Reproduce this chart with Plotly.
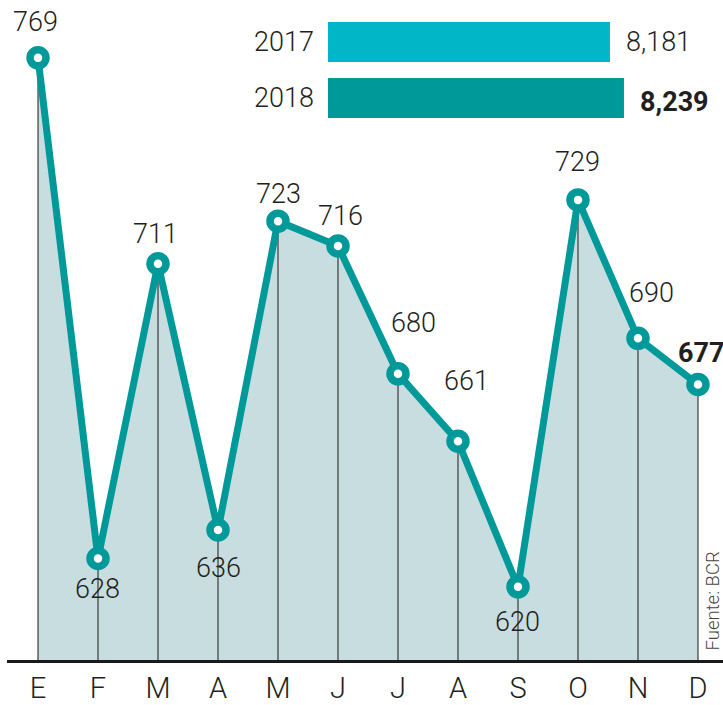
import plotly.graph_objects as go

months = ["E", "F", "M", "A", "M", "J", "J", "A", "S", "O", "N", "D"]
values = [769, 628, 711, 636, 723, 716, 680, 661, 620, 729, 690, 677]
years = ["2017", "2018"]
totals = [8181, 8239]

# label offsets in pixels (dx, dy) - styling only
label_dx = [-3, -1, -3, 0, 0, 2, 15, 9, 0, 0, 14, 3]
label_dy = [36, -31, 30, -38, 27, 30, 51, 60, -35, 38, 45, 32]

TEAL = "#00999a"
CYAN = "#00b6c7"
FILL = "#c8dde0"
TXT = "#231f20"
FONT = "Roboto"

xs = list(range(len(months)))
ys = list(range(len(years)))

fig = go.Figure()

# filled area
fig.add_trace(go.Scatter(x=xs, y=values, mode="lines", line=dict(width=0, color=FILL),
                         fill="tozeroy", fillcolor=FILL, hoverinfo="skip", showlegend=False))

# drop lines
dx, dy = [], []
for x, v in zip(xs, values):
    dx += [x, x, None]
    dy += [v, 0, None]
fig.add_trace(go.Scatter(x=dx, y=dy, mode="lines", line=dict(width=1.2, color="#3a3a3a"),
                         hoverinfo="skip", showlegend=False))

# main line with markers
fig.add_trace(go.Scatter(x=xs, y=values, mode="lines+markers",
                         line=dict(width=7, color=TEAL),
                         marker=dict(size=16, color="white", line=dict(width=7.5, color=TEAL)),
                         showlegend=False, cliponaxis=False))

# total bars
fig.add_trace(go.Bar(x=totals, y=ys, orientation="h", xaxis="x2", yaxis="y2",
                     marker=dict(color=[CYAN, TEAL], line=dict(width=0)),
                     width=0.714, showlegend=False, hoverinfo="skip"))

annotations = []
for i, (x, v) in enumerate(zip(xs, values)):
    bold = (i == len(values) - 1)
    annotations.append(dict(x=x, y=v, xref="x", yref="y", text=str(v), showarrow=False,
                            xshift=label_dx[i], yshift=label_dy[i],
                            font=dict(family=FONT, size=27, color=TXT,
                                      weight=700 if bold else 300)))

for i, (yr, t) in enumerate(zip(years, totals)):
    bold = (i == len(totals) - 1)
    annotations.append(dict(x=t, y=i, xref="x2", yref="y2", text=f"{t:,}", showarrow=False,
                            xanchor="left", xshift=14, yshift=(-4 if bold else 0),
                            font=dict(family=FONT, size=27, color=TXT,
                                      weight=700 if bold else 300)))
    annotations.append(dict(x=0, y=i, xref="x2 domain", yref="y2", text=yr, showarrow=False,
                            xanchor="right", xshift=-12,
                            font=dict(family=FONT, size=27, color=TXT, weight=300)))

annotations.append(dict(x=0.99, y=0.09, xref="paper", yref="paper", text="Fuente: BCR",
                        textangle=-90, showarrow=False, xanchor="center", yanchor="middle",
                        xshift=-3,
                        font=dict(family=FONT, size=18.5, color="#444", weight=300)))

fig.update_layout(
    width=723, height=705,
    margin=dict(l=7, r=0, t=0, b=45),
    paper_bgcolor="white", plot_bgcolor="white",
    xaxis=dict(range=[-0.517, 11.417], tickmode="array", tickvals=xs, ticktext=months,
               showgrid=False, zeroline=False, showline=True, linecolor="#1a1a1a", linewidth=3,
               ticks="", tickfont=dict(family=FONT, size=29, color=TXT, weight=300)),
    yaxis=dict(range=[599.4, 785.3], visible=False, showgrid=False, zeroline=False),
    xaxis2=dict(domain=[0.4483, 0.8617], range=[7013, 8239], anchor="y2", visible=False,
                showgrid=False, zeroline=False),
    yaxis2=dict(domain=[0.8091, 0.9788], anchor="x2", visible=False,
                range=[1.5, -0.5], showgrid=False, zeroline=False),
    annotations=annotations,
)

fig.write_html("out.html")
